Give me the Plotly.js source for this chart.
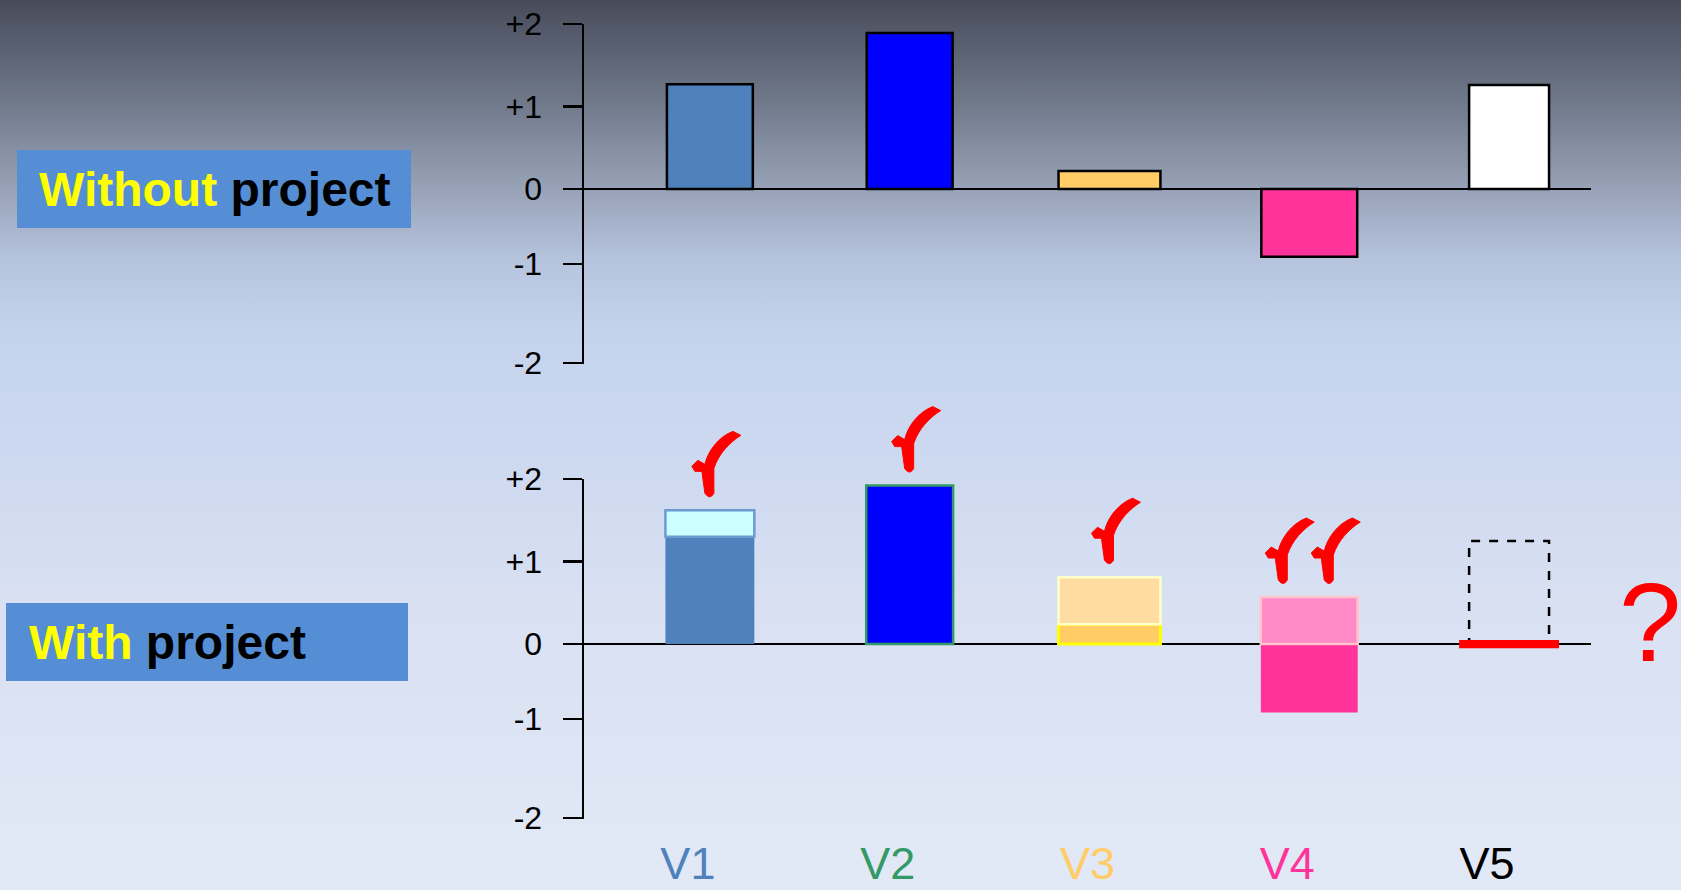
<!DOCTYPE html>
<html>
<head>
<meta charset="utf-8">
<script src="https://cdn.plot.ly/plotly-3.0.1.min.js"></script>
<style>
html,body{margin:0;padding:0;}
#chart{width:1681px;height:890px;
background:linear-gradient(to bottom,#474c5a 0%,#6e7788 11%,#939db2 20%,#b5c3dc 29%,#c4d3ec 37%,#cad7ef 47%,#d8e0f2 67%,#e2e9f6 100%);}
</style>
</head>
<body>
<div id="chart"></div>
<script>
// ---- data ----
const categories = ['V1','V2','V3','V4','V5'];
const labelColors = ['#4F81BD','#339966','#FFCC66','#FF3399','#000000'];
const tickVals = [-2.11,-0.91,0,1,2];
const tickText = ['-2','-1','0','+1','+2'];

// Without project
const withoutValues = [1.27, 1.89, 0.22, -0.82, 1.26];
const withoutColors = ['#4F81BD','#0000FF','#FFCC66','#FF3399','#FFFFFF'];
const withoutWidths = [0.43, 0.43, 0.51, 0.48, 0.40];

// With project: base part
const withBase = [1.30, 1.92, 0.24, -0.83, null];
const withBaseColors = ['#4F81BD','#0000FF','#FFCC66','#FF3399','#FFFFFF'];
const withBaseLine = ['#4F81BD','#339966','#FFFF00','#FF3399','#000000'];
const withBaseLineW = [0, 2.5, 3, 0, 0];
const withWidths = [0.445, 0.435, 0.51, 0.485, 0.40];

// With project: gain part
const gainBase = [1.30, null, 0.24, 0, null];
const gainTop = [1.62, null, 0.81, 0.57, null];
const gainColors = ['#CCFFFF','#FFFFFF','#FFDDA2','#FF8AC5','#FFFFFF'];
const gainLine = ['#6C9BD2','#000000','#FFFFCC','#FFC4CE','#000000'];

// V5: expected vs actual
const v5Target = [null, null, null, null, 1.25];
const v5Actual = [null, null, null, null, 0];

// checkmarks per category
const checks = [1, 1, 1, 2, 0];

// ---- geometry of the axes ----
const xRange = [-0.63, 4.41];
const yRange = [-2.12, 2.0];
const xDom = [584/1681, 1591/1681];
const yDomTop = [1-364/890, 1-24/890];
const yDomBot = [1-819/890, 1-479/890];
const xToPaper = v => xDom[0] + (v - xRange[0])/(xRange[1]-xRange[0])*(xDom[1]-xDom[0]);
const yToPaper = (v, dom) => dom[0] + (v - yRange[0])/(yRange[1]-yRange[0])*(dom[1]-dom[0]);

// ---- traces ----
const traces = [];
traces.push({
  type:'bar', x:categories, y:withoutValues, width:withoutWidths,
  xaxis:'x', yaxis:'y',
  marker:{color:withoutColors, line:{color:'#000000', width:2.5}},
  hoverinfo:'skip'
});
traces.push({
  type:'bar', x:categories, y:withBase, width:withWidths,
  xaxis:'x2', yaxis:'y2',
  marker:{color:withBaseColors, line:{color:withBaseLine, width:withBaseLineW}},
  hoverinfo:'skip'
});
traces.push({
  type:'bar', x:categories,
  y:gainTop.map((t,i)=> t===null ? null : t - gainBase[i]),
  base:gainBase, width:withWidths,
  xaxis:'x2', yaxis:'y2',
  marker:{color:gainColors, line:{color:gainLine, width:2.5}},
  hoverinfo:'skip'
});
traces.push({
  type:'bar', x:categories,
  y:v5Actual.map(v=> v===null ? null : 0.1),
  base:v5Actual.map(v=> v===null ? null : v - 0.05),
  width:0.5, xaxis:'x2', yaxis:'y2',
  marker:{color:'#FF0000', line:{width:0}},
  hoverinfo:'skip'
});

// ---- shapes ----
const shapes = [];
// label boxes
shapes.push({type:'rect', xref:'paper', yref:'paper', x0:17/1681, x1:411/1681, y0:1-228/890, y1:1-150/890,
  fillcolor:'#558ED5', line:{width:0}});
shapes.push({type:'rect', xref:'paper', yref:'paper', x0:6/1681, x1:408/1681, y0:1-681/890, y1:1-603/890,
  fillcolor:'#558ED5', line:{width:0}});
// V5 dashed target box
v5Target.forEach((t,i)=>{
  if(t===null) return;
  shapes.push({type:'rect', xref:'x2', yref:'y2', layer:'below',
    x0:i-0.2, x1:i+0.2, y0:0, y1:t,
    line:{color:'#000000', width:2.5, dash:'dash'}, fillcolor:'rgba(0,0,0,0)'});
});
// hand-drawn style checkmarks (filled outline, pixel offsets from anchor)
function checkPath(dx, dy){
  const p = (x,y)=> (x+dx)+','+(y+dy);
  return 'M'+p(-5,3)+' L'+p(-8,25)+' L'+p(-15,25)+' L'+p(-18,30)+' L'+p(-12,36)+' L'+p(-5,32)+
    ' C'+p(-2,45)+' '+p(8,59)+' '+p(23,65)+' L'+p(31,61)+
    ' C'+p(20,54)+' '+p(9,43)+' '+p(4,28)+' L'+p(4,3)+' Q'+p(0,-4)+' '+p(-5,3)+' Z';
}
checks.forEach((n,i)=>{
  if(!n) return;
  const top = Math.max(withBase[i] ?? 0, gainTop[i] ?? -9);
  const offs = n===1 ? [0] : [-26, 20];
  offs.forEach(dx=>{
    shapes.push({type:'path', xref:'paper', yref:'paper', xsizemode:'pixel', ysizemode:'pixel',
      xanchor:xToPaper(i), yanchor:yToPaper(top, yDomBot), path:checkPath(dx, 14),
      line:{color:'#FF0000', width:1}, fillcolor:'#FF0000'});
  });
});

// ---- annotations ----
const annotations = [
  {xref:'paper', yref:'paper', x:37/1681, y:1-189/890, xanchor:'left', yanchor:'middle', showarrow:false,
   text:'<b><span style="color:#FFFF00">Without</span> project</b>',
   font:{family:'Liberation Sans, Arial, sans-serif', size:48, color:'#000000'}},
  {xref:'paper', yref:'paper', x:27/1681, y:1-642/890, xanchor:'left', yanchor:'middle', showarrow:false,
   text:'<b><span style="color:#FFFF00">With</span> project</b>',
   font:{family:'Liberation Sans, Arial, sans-serif', size:48, color:'#000000'}},
  {xref:'paper', yref:'paper', x:1650/1681, y:1-622/890, xanchor:'center', yanchor:'middle', showarrow:false,
   text:'?', font:{family:'Liberation Sans, Arial, sans-serif', size:112, color:'#FF0000'}}
];

function yAxis(dom, anchor){
  return {domain:dom, anchor:anchor, range:yRange, fixedrange:true,
    showline:true, linecolor:'#000000', linewidth:2.5,
    ticks:'outside', ticklen:19, tickwidth:2.5, tickcolor:'#000000',
    tickmode:'array', tickvals:tickVals, ticktext:tickText, ticklabelstandoff:14,
    tickfont:{family:'Liberation Sans, Arial, sans-serif', size:32, color:'#000000'},
    showgrid:false, zeroline:true, zerolinecolor:'#000000', zerolinewidth:2.5};
}
const layout = {
  width:1681, height:890, autosize:false,
  margin:{l:0, r:0, t:0, b:0},
  paper_bgcolor:'rgba(0,0,0,0)', plot_bgcolor:'rgba(0,0,0,0)',
  showlegend:false, barmode:'overlay',
  xaxis:{domain:xDom, anchor:'y', range:xRange, type:'category', categoryarray:categories,
    showline:false, showgrid:false, zeroline:false, showticklabels:false, ticks:'', fixedrange:true},
  yaxis:yAxis(yDomTop, 'x'),
  xaxis2:{domain:xDom, anchor:'y2', range:xRange, type:'category', categoryarray:categories,
    showline:false, showgrid:false, zeroline:false, ticks:'', fixedrange:true,
    tickmode:'array', tickvals:categories,
    ticktext:categories.map((c,i)=>'<span style="color:'+labelColors[i]+'">'+c+'</span>'),
    ticklabelstandoff:14, ticklabelshift:-22,
    tickfont:{family:'Liberation Sans Narrow, Liberation Sans, Arial, sans-serif', size:45}},
  yaxis2:yAxis(yDomBot, 'x2'),
  shapes:shapes, annotations:annotations
};
Plotly.newPlot('chart', traces, layout, {displayModeBar:false, staticPlot:true});
</script>
</body>
</html>
